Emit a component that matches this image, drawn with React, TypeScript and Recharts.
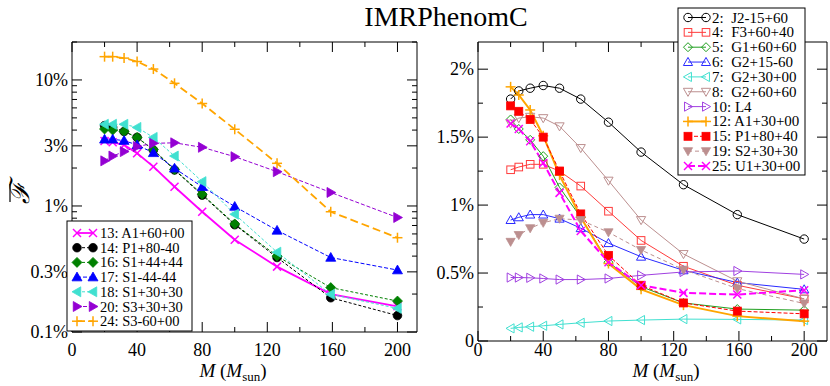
import React from 'react'
import { LineChart, Line, XAxis, YAxis, ReferenceArea } from 'recharts'

const FONT = "'Liberation Serif', 'Times New Roman', serif"

// total mass M (Msun), shared by every series
const masses = [20, 25, 32, 40, 50, 63, 80, 100, 126, 159, 200]

// left panel, log scale, values in %
const s13 = [3.28, 3.2, 3.05, 2.62, 2.05, 1.42, 0.9, 0.54, 0.33, 0.2, 0.16]
const s14 = [4.34, 4.2, 3.9, 3.5, 2.78, 1.93, 1.22, 0.71, 0.39, 0.187, 0.135]
const s16 = [4.08, 4.0, 3.9, 3.5, 2.8, 1.95, 1.24, 0.72, 0.4, 0.225, 0.176]
const s17 = [3.38, 3.38, 3.3, 3.05, 2.64, 1.99, 1.42, 0.99, 0.64, 0.39, 0.31]
const s18 = [4.45, 4.45, 4.45, 4.2, 3.5, 2.49, 1.56, 0.86, 0.43, 0.199, 0.154]
const s20 = [2.28, 2.49, 2.7, 2.96, 3.14, 3.17, 2.92, 2.46, 1.87, 1.28, 0.81]
const s24 = [15.3, 15.3, 14.9, 14.0, 12.2, 9.4, 6.5, 4.06, 2.18, 0.9, 0.56]

// right panel, linear scale, values in %
const s2 = [1.78, 1.84, 1.86, 1.88, 1.86, 1.78, 1.61, 1.39, 1.15, 0.93, 0.75]
const s4 = [1.26, 1.28, 1.3, 1.3, 1.25, 1.14, 0.955, 0.74, 0.55, 0.41, 0.31]
const s5 = [1.63, 1.56, 1.48, 1.36, 1.13, 0.91, 0.58, 0.4, 0.28, 0.235, 0.227]
const s6 = [0.89, 0.91, 0.93, 0.93, 0.9, 0.83, 0.72, 0.62, 0.52, 0.43, 0.38]
const s7 = [0.093, 0.1, 0.105, 0.112, 0.122, 0.134, 0.147, 0.154, 0.161, 0.159, 0.154]
const s8 = [1.6, 1.64, 1.65, 1.64, 1.58, 1.42, 1.18, 0.89, 0.64, 0.44, 0.31]
const s10 = [0.467, 0.467, 0.465, 0.46, 0.452, 0.452, 0.46, 0.483, 0.508, 0.515, 0.49]
const s12 = [1.87, 1.81, 1.7, 1.51, 1.22, 0.91, 0.57, 0.38, 0.264, 0.183, 0.146]
const s15 = [1.73, 1.69, 1.63, 1.5, 1.25, 0.935, 0.63, 0.41, 0.28, 0.22, 0.2]
const s19 = [0.73, 0.78, 0.83, 0.87, 0.9, 0.89, 0.8, 0.67, 0.525, 0.386, 0.276]
const s25 = [1.6, 1.56, 1.47, 1.31, 1.09, 0.81, 0.58, 0.41, 0.354, 0.342, 0.374]

// axis ticks
const xTicks = [0, 20, 40, 60, 80, 100, 120, 140, 160, 180, 200]
const xLabels = [0, 40, 80, 120, 160, 200]
const logTicks = [0.1, 0.2, 0.3, 0.4, 0.5, 0.6, 0.7, 0.8, 0.9, 1, 2, 3, 4, 5, 6, 7, 8, 9, 10, 20]
const logLabels = [0.1, 0.3, 1, 3, 10]
const linTicks = [0, 0.25, 0.5, 0.75, 1, 1.25, 1.5, 1.75, 2]
const linLabels = [0, 0.5, 1, 1.5, 2]

type Shape = 'circle' | 'square' | 'diamond' | 'up' | 'down' | 'left' | 'right' | 'plus' | 'cross'

interface Series {
  key: string
  label: string
  values: number[]
  color: string
  shape: Shape
  filled: boolean
  dash?: string
  width: number
  size: number
}

const leftSeries: Series[] = [
  { key: 's13', label: '13: A1+60+00', values: s13, color: '#ff00ff', shape: 'cross', filled: true, width: 1.8, size: 4 },
  { key: 's14', label: '14: P1+80-40', values: s14, color: '#000000', shape: 'circle', filled: true, dash: '3 2', width: 1, size: 4.3 },
  { key: 's16', label: '16: S1+44+44', values: s16, color: '#008000', shape: 'diamond', filled: true, dash: '3 2', width: 1, size: 5 },
  { key: 's17', label: '17: S1-44-44', values: s17, color: '#0000ff', shape: 'up', filled: true, dash: '4 2', width: 1, size: 5 },
  { key: 's18', label: '18: S1+30+30', values: s18, color: '#40e0d0', shape: 'left', filled: true, dash: '3 2', width: 1, size: 5 },
  { key: 's20', label: '20: S3+30+30', values: s20, color: '#9400d3', shape: 'right', filled: true, dash: '4 2', width: 1, size: 5 },
  { key: 's24', label: '24: S3-60+00', values: s24, color: '#ffa500', shape: 'plus', filled: true, dash: '8 4', width: 1.8, size: 5 },
]

const rightSeries: Series[] = [
  { key: 's2', label: '2:  J2-15+60', values: s2, color: '#000000', shape: 'circle', filled: false, width: 1, size: 4.2 },
  { key: 's4', label: '4:  F3+60+40', values: s4, color: '#ff3b3b', shape: 'square', filled: false, width: 1, size: 3.8 },
  { key: 's5', label: '5:  G1+60+60', values: s5, color: '#1f9f1f', shape: 'diamond', filled: false, width: 1, size: 4.5 },
  { key: 's6', label: '6:  G2+15-60', values: s6, color: '#2a2aff', shape: 'up', filled: false, width: 1, size: 4.6 },
  { key: 's7', label: '7:  G2+30+00', values: s7, color: '#40e0d0', shape: 'left', filled: false, width: 1, size: 4.6 },
  { key: 's8', label: '8:  G2+60+60', values: s8, color: '#bc8f8f', shape: 'down', filled: false, width: 1, size: 4.6 },
  { key: 's10', label: '10: L4', values: s10, color: '#a040e0', shape: 'right', filled: false, width: 1, size: 4.6 },
  { key: 's12', label: '12: A1+30+00', values: s12, color: '#ffa500', shape: 'plus', filled: true, width: 2, size: 5 },
  { key: 's15', label: '15: P1+80+40', values: s15, color: '#ff0000', shape: 'square', filled: true, dash: '4 2', width: 1, size: 4 },
  { key: 's19', label: '19: S2+30+30', values: s19, color: '#bc8f8f', shape: 'down', filled: true, dash: '4 3', width: 1, size: 4.6 },
  { key: 's25', label: '25: U1+30+00', values: s25, color: '#ff00ff', shape: 'cross', filled: true, dash: '7 3', width: 2, size: 4 },
]

const buildRows = (series: Series[]) =>
  masses.map((M, i) => {
    const row: Record<string, number> = { M }
    series.forEach((s) => (row[s.key] = s.values[i]))
    return row
  })

const leftData = buildRows(leftSeries)
const rightData = buildRows(rightSeries)

function Marker({ shape, cx, cy, s, color, filled }: { shape: Shape; cx: number; cy: number; s: number; color: string; filled: boolean }) {
  const fill = filled ? color : 'none'
  const sw = filled ? 0.8 : 1
  const poly = (pts: number[][]) => (
    <polygon points={pts.map((p) => p.join(',')).join(' ')} fill={fill} stroke={color} strokeWidth={sw} />
  )
  switch (shape) {
    case 'circle':
      return <circle cx={cx} cy={cy} r={s} fill={fill} stroke={color} strokeWidth={sw} />
    case 'square':
      return <rect x={cx - s} y={cy - s} width={2 * s} height={2 * s} fill={fill} stroke={color} strokeWidth={sw} />
    case 'diamond':
      return poly([[cx, cy - s], [cx + s, cy], [cx, cy + s], [cx - s, cy]])
    case 'up':
      return poly([[cx, cy - s], [cx + s, cy + s * 0.75], [cx - s, cy + s * 0.75]])
    case 'down':
      return poly([[cx, cy + s], [cx + s, cy - s * 0.75], [cx - s, cy - s * 0.75]])
    case 'left':
      return poly([[cx - s, cy], [cx + s * 0.75, cy - s], [cx + s * 0.75, cy + s]])
    case 'right':
      return poly([[cx + s, cy], [cx - s * 0.75, cy - s], [cx - s * 0.75, cy + s]])
    case 'plus':
      return (
        <g stroke={color} strokeWidth={1.5}>
          <line x1={cx - s} y1={cy} x2={cx + s} y2={cy} />
          <line x1={cx} y1={cy - s} x2={cx} y2={cy + s} />
        </g>
      )
    case 'cross':
      return (
        <g stroke={color} strokeWidth={1.5}>
          <line x1={cx - s} y1={cy - s} x2={cx + s} y2={cy + s} />
          <line x1={cx - s} y1={cy + s} x2={cx + s} y2={cy - s} />
        </g>
      )
  }
  return null
}

// x tick: inward marks on bottom and top, label at a fixed baseline
function XTick(props: any) {
  const { x, y, payload, top, labelY } = props
  const v = payload.value
  const major = v % 40 === 0
  const len = major ? 10 : 5
  return (
    <g>
      <line x1={x} y1={y} x2={x} y2={y - len} stroke="#000" />
      <line x1={x} y1={top} x2={x} y2={top + len} stroke="#000" />
      {xLabels.includes(v) && (
        <text x={x} y={labelY} textAnchor="middle" fontFamily={FONT} fontSize={18} fill="#000">
          {v}
        </text>
      )}
    </g>
  )
}

function YTick(props: any) {
  const { x, y, payload, right, majors, fmt } = props
  const v = payload.value
  const major = majors.includes(v)
  const len = major ? 10 : 5
  return (
    <g>
      <line x1={x} y1={y} x2={x + len} y2={y} stroke="#000" />
      <line x1={right} y1={y} x2={right - len} y2={y} stroke="#000" />
      {major && (
        <text x={x - 4} y={y + 6} textAnchor="end" fontFamily={FONT} fontSize={18} fill="#000">
          {fmt(v)}
        </text>
      )}
    </g>
  )
}

function renderLines(series: Series[]) {
  return series.map((s) => (
    <Line
      key={s.key}
      type="linear"
      dataKey={s.key}
      stroke={s.color}
      strokeWidth={s.width}
      strokeDasharray={s.dash}
      isAnimationActive={false}
      activeDot={false}
      dot={(p: any) => (
        <Marker key={`${s.key}-${p.index}`} shape={s.shape} cx={p.cx} cy={p.cy} s={s.size} color={s.color} filled={s.filled} />
      )}
    />
  ))
}

function LegendBox({ series, x, y, w, h, y0, step, sx1, sx2, tx, fs }: any) {
  return (
    <g>
      <rect x={x} y={y} width={w} height={h} fill="#fff" stroke="#000" strokeWidth={1} />
      {series.map((s: Series, i: number) => {
        const cy = y0 + i * step
        return (
          <g key={s.key}>
            <line x1={sx1} y1={cy} x2={sx2} y2={cy} stroke={s.color} strokeWidth={s.width} strokeDasharray={s.dash} />
            <Marker shape={s.shape} cx={sx1} cy={cy} s={s.size} color={s.color} filled={s.filled} />
            <Marker shape={s.shape} cx={sx2} cy={cy} s={s.size} color={s.color} filled={s.filled} />
            <text x={tx} y={cy + 5} fontFamily={FONT} fontSize={fs} fill="#000" style={{ whiteSpace: 'pre' }}>
              {s.label}
            </text>
          </g>
        )
      })}
    </g>
  )
}

const fmtLog = (v: number) => `${v}%`
const fmtLin = (v: number) => (v === 0 ? '0' : `${v}%`)

export default function App() {
  return (
    <div style={{ position: 'absolute', left: 0, top: 0, width: 830, height: 386, background: '#fff' }}>
      <div style={{ position: 'absolute', left: 0, top: 0 }}>
        <LineChart width={430} height={386} data={leftData} margin={{ top: 42, right: 13, left: 32, bottom: 24 }}>
          <XAxis
            type="number"
            dataKey="M"
            domain={[0, 212]}
            allowDataOverflow
            ticks={xTicks}
            interval={0}
            height={30}
            tickSize={0}
            tickMargin={0}
            axisLine={false}
            tickLine={false}
            tick={(p: any) => <XTick {...p} top={42} labelY={356} />}
          />
          <YAxis
            type="number"
            scale="log"
            domain={[0.1, 20]}
            allowDataOverflow
            ticks={logTicks}
            interval={0}
            width={40}
            tickSize={0}
            tickMargin={0}
            axisLine={false}
            tickLine={false}
            tick={(p: any) => <YTick {...p} right={417} majors={logLabels} fmt={fmtLog} />}
          />
          <ReferenceArea x1={0} x2={212} y1={0.1} y2={20} fill="none" stroke="#000" strokeWidth={1} />
          {renderLines(leftSeries)}
        </LineChart>
      </div>
      <div style={{ position: 'absolute', left: 430, top: 0 }}>
        <LineChart width={400} height={386} data={rightData} margin={{ top: 42, right: 3, left: 8, bottom: 15 }}>
          <XAxis
            type="number"
            dataKey="M"
            domain={[0, 214]}
            allowDataOverflow
            ticks={xTicks}
            interval={0}
            height={30}
            tickSize={0}
            tickMargin={0}
            axisLine={false}
            tickLine={false}
            tick={(p: any) => <XTick {...p} top={42} labelY={356} />}
          />
          <YAxis
            type="number"
            domain={[0, 2.2]}
            allowDataOverflow
            ticks={linTicks}
            interval={0}
            width={40}
            tickSize={0}
            tickMargin={0}
            axisLine={false}
            tickLine={false}
            tick={(p: any) => <YTick {...p} right={397} majors={linLabels} fmt={fmtLin} />}
          />
          <ReferenceArea x1={0} x2={214} y1={0} y2={2.2} fill="none" stroke="#000" strokeWidth={1} />
          {renderLines(rightSeries)}
        </LineChart>
      </div>
      <svg width={830} height={386} style={{ position: 'absolute', left: 0, top: 0, pointerEvents: 'none' }}>
        <text x={446} y={26} textAnchor="middle" fontFamily={FONT} fontSize={28} fill="#000">
          IMRPhenomC
        </text>
        <g transform="translate(29,193) rotate(-90)">
          <text x={0} y={0} textAnchor="middle" fontFamily="'DejaVu Serif', serif" fontStyle="italic" fontSize={27} fill="#000">
            ℱ
          </text>
          <line x1={-9} y1={-19} x2={9} y2={-19} stroke="#000" strokeWidth={1.2} />
        </g>
        {[233, 666].map((cx) => (
          <text key={cx} x={cx} y={377} textAnchor="middle" fontFamily={FONT} fontSize={19} fill="#000">
            <tspan fontStyle="italic">M</tspan> (<tspan fontStyle="italic">M</tspan>
            <tspan fontSize={13} dy={4}>sun</tspan>
            <tspan dy={-4}>)</tspan>
          </text>
        ))}
        <LegendBox series={leftSeries} x={67} y={221} w={125} h={110} y0={233} step={14.7} sx1={77} sx2={93} tx={100} fs={14.5} />
        <LegendBox series={rightSeries} x={678} y={8} w={127} h={167} y0={17.5} step={14.85} sx1={688} sx2={706} tx={712} fs={15} />
      </svg>
    </div>
  )
}
